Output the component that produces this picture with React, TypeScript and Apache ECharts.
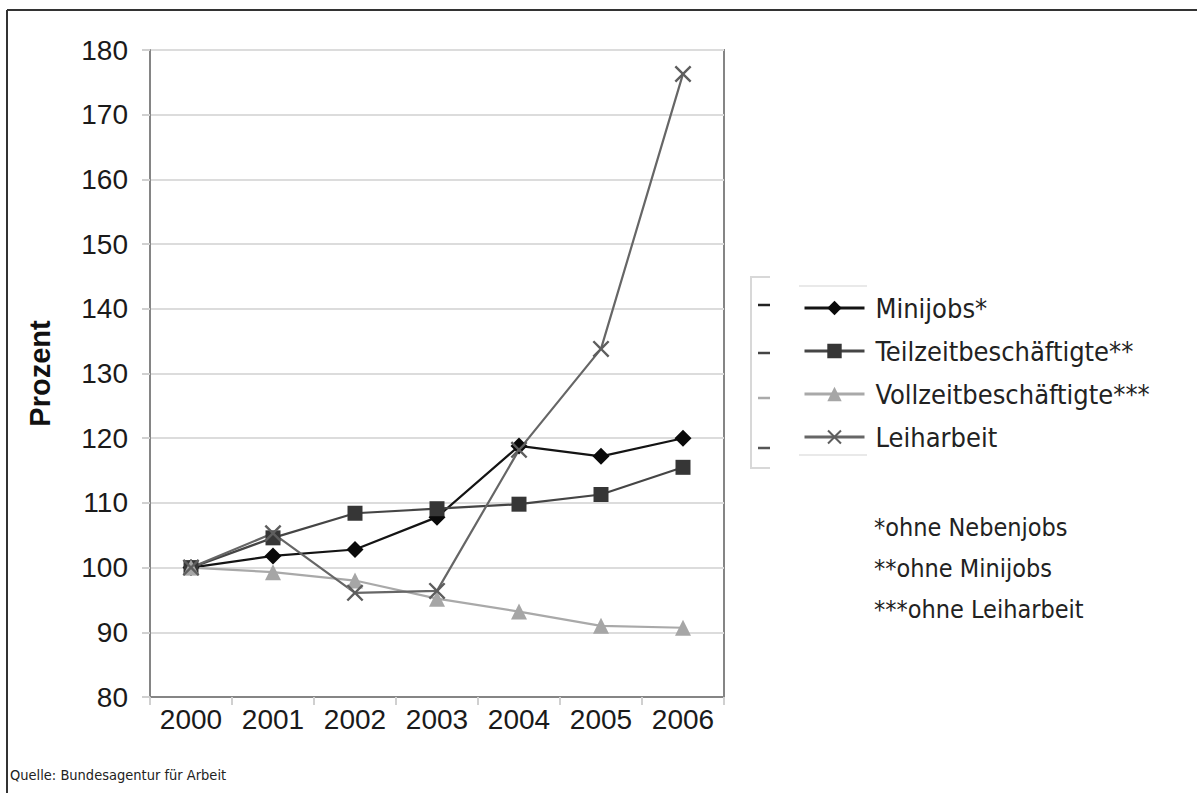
import React, { useEffect, useRef } from "react";
import * as echarts from "echarts";

const years = ["2000", "2001", "2002", "2003", "2004", "2005", "2006"];
const minijobs = [100, 101.8, 102.8, 107.8, 118.8, 117.2, 120.0];
const teilzeit = [100, 104.6, 108.4, 109.1, 109.8, 111.3, 115.5];
const vollzeit = [100, 99.3, 98.0, 95.2, 93.2, 91.0, 90.7];
const leiharbeit = [100, 105.3, 96.1, 96.4, 118.2, 133.8, 176.3];
const seriesNames = ["Minijobs*", "Teilzeitbeschäftigte**", "Vollzeitbeschäftigte***", "Leiharbeit"];
const footnotes = ["*ohne Nebenjobs", "**ohne Minijobs", "***ohne Leiharbeit"];
const yAxisTitle = "Prozent";
const sourceText = "Quelle: Bundesagentur für Arbeit";

const NARROW = "'Liberation Sans Narrow', 'DejaVu Sans Condensed', sans-serif";
const ARIAL = "'Liberation Sans', Arial, sans-serif";
const X_SYMBOL = "path://M1,0 L5,4 L9,0 L10,1 L6,5 L10,9 L9,10 L5,6 L1,10 L0,9 L4,5 L0,1 Z";

export default function App() {
  const ref = useRef<HTMLDivElement>(null);
  useEffect(() => {
    if (!ref.current) return;
    const chart = echarts.init(ref.current, null, { renderer: "svg" });
    const mk = (name: string, data: number[], color: string, lineColor: string, symbol: string, size: number) => ({
      name,
      type: "line",
      data,
      symbol,
      symbolSize: size,
      itemStyle: { color },
      lineStyle: { color: lineColor, width: 2.2 },
    });
    const dashes = [305, 353, 398, 448];
    const dashColors = ["#222", "#444", "#aaa", "#555"];
    chart.setOption({
      animation: false,
      backgroundColor: "#fff",
      grid: {
        left: 150,
        top: 50,
        width: 574,
        height: 647,
        show: true,
        borderColor: "#858585",
        borderWidth: 2,
        containLabel: false,
      },
      xAxis: {
        type: "category",
        data: years,
        boundaryGap: true,
        axisLine: { show: true, lineStyle: { color: "#858585", width: 2 } },
        axisTick: { show: true, length: 8, lineStyle: { color: "#d0d0d0", width: 2 } },
        axisLabel: { fontFamily: ARIAL, fontSize: 28, color: "#1a1a1a", margin: 8 },
        splitLine: { show: false },
      },
      yAxis: {
        type: "value",
        min: 80,
        max: 180,
        interval: 10,
        name: yAxisTitle,
        nameLocation: "middle",
        nameRotate: 90,
        nameGap: 96,
        nameTextStyle: { fontFamily: ARIAL, fontSize: 29, fontWeight: "bold", color: "#111" },
        axisLine: { show: true, lineStyle: { color: "#858585", width: 2 } },
        axisTick: { show: true, length: 8, lineStyle: { color: "#d0d0d0", width: 2 } },
        axisLabel: { fontFamily: ARIAL, fontSize: 28, color: "#1a1a1a", margin: 22 },
        splitLine: { show: true, lineStyle: { color: "#dcdcdc", width: 2 } },
      },
      legend: {
        orient: "vertical",
        left: 803,
        top: 293,
        itemWidth: 60,
        itemHeight: 18,
        itemGap: 13,
        padding: 0,
        data: seriesNames,
        lineStyle: { width: 3 },
        textStyle: { fontFamily: NARROW, fontSize: 27, color: "#222", lineHeight: 30, padding: [0, 0, 0, 6] },
      },
      series: [
        mk(seriesNames[0], minijobs, "#0a0a0a", "#141414", "diamond", 17),
        mk(seriesNames[1], teilzeit, "#363636", "#454545", "rect", 15),
        mk(seriesNames[2], vollzeit, "#a6a6a6", "#a9a9a9", "triangle", 16),
        mk(seriesNames[3], leiharbeit, "#5e5e5e", "#666666", X_SYMBOL, 17),
      ],
      graphic: [
        { type: "line", shape: { x1: 7, y1: 10, x2: 1197, y2: 10 }, style: { stroke: "#333", lineWidth: 2 } },
        { type: "line", shape: { x1: 7, y1: 10, x2: 7, y2: 793 }, style: { stroke: "#333", lineWidth: 2 } },
        { type: "polyline", shape: { points: [[770, 277], [751, 277], [751, 468], [770, 468]] }, style: { stroke: "#d8d8d8", lineWidth: 2, fill: "none" } },
        { type: "line", shape: { x1: 799, y1: 286, x2: 867, y2: 286 }, style: { stroke: "#e2e2e2", lineWidth: 1.5 } },
        { type: "line", shape: { x1: 799, y1: 455, x2: 867, y2: 455 }, style: { stroke: "#e2e2e2", lineWidth: 1.5 } },
        ...dashes.map((y, i) => ({
          type: "line",
          shape: { x1: 758, y1: y, x2: 770, y2: y },
          style: { stroke: dashColors[i], lineWidth: 2.5 },
        })),
        ...footnotes.map((t, i) => ({
          type: "text",
          left: 874,
          top: [515, 556, 597][i],
          style: { text: t, fontFamily: NARROW, fontSize: 25, fill: "#222" },
        })),
        {
          type: "text",
          left: 10,
          top: 767,
          style: { text: sourceText, fontFamily: NARROW, fontSize: 14.5, fill: "#222" },
        },
      ],
    });
    return () => chart.dispose();
  }, []);
  return <div ref={ref} style={{ position: "fixed", left: 0, top: 0, width: 1197, height: 793 }} />;
}
